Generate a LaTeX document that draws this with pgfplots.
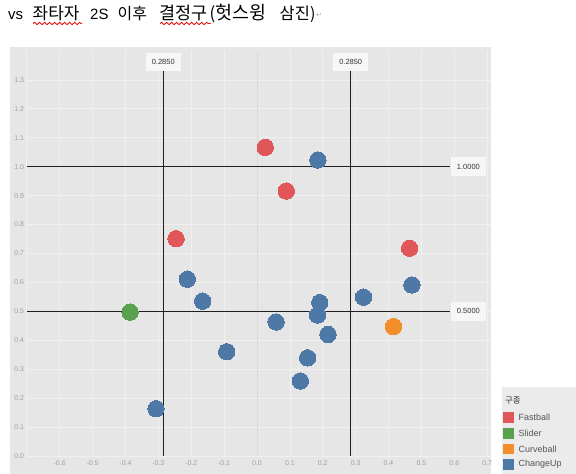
\documentclass[border=0pt]{standalone}
\usepackage{fontspec}
\setmainfont{Liberation Sans}
\newfontfamily\kr{Noto Sans CJK KR}
\newfontfamily\dejavu{DejaVu Sans}
\usepackage{pgfplots}
\pgfplotsset{compat=1.18}
\usetikzlibrary{decorations.pathmorphing}
\definecolor{bgc}{HTML}{E6E6E6}
\definecolor{gridc}{HTML}{F0F0F0}
\definecolor{zeroc}{HTML}{DADADA}
\definecolor{tickc}{HTML}{A0A0A0}
\definecolor{cRed}{HTML}{E15759}
\definecolor{cGreen}{HTML}{59A14F}
\definecolor{cOrange}{HTML}{F28E2B}
\definecolor{cBlue}{HTML}{4E79A7}
\definecolor{lblbg}{HTML}{F7F7F7}
\definecolor{legbg}{HTML}{EBEBEB}
\definecolor{reftxt}{HTML}{333333}
\definecolor{legtxt}{HTML}{555555}
\begin{document}
\begin{tikzpicture}
\path[use as bounding box] (0,0) rectangle (576bp,474bp);
\clip (0,0) rectangle (576bp,474bp);
\fill[bgc] (10bp,0) rectangle (491bp,427.3bp);
\begin{axis}[
  at={(26.8bp,18.1bp)}, anchor=south west,
  scale only axis, width=464.3bp, height=404.9bp,
  xmin=-0.7, xmax=0.712, ymin=0, ymax=1.4,
  axis line style={draw=none},
  tick style={draw=none},
  grid=major, major grid style={gridc, line width=0.7bp},
  xtick={-0.7,-0.6,-0.5,-0.4,-0.3,-0.2,-0.1,0,0.1,0.2,0.3,0.4,0.5,0.6,0.7},
  xticklabels={,-0.6,-0.5,-0.4,-0.3,-0.2,-0.1,0.0,0.1,0.2,0.3,0.4,0.5,0.6,0.7},
  ytick={0,0.1,0.2,0.3,0.4,0.5,0.6,0.7,0.8,0.9,1.0,1.1,1.2,1.3},
  yticklabels={0.0,0.1,0.2,0.3,0.4,0.5,0.6,0.7,0.8,0.9,1.0,1.1,1.2,1.3},
  ticklabel style={font=\fontsize{7}{8}\selectfont, text=tickc, inner sep=0pt},
  xticklabel style={yshift=-4.5bp},
  yticklabel style={xshift=-2.5bp},
  clip=false,
]
\addplot[forget plot, zeroc, line width=0.7bp] coordinates {(0,0) (0,1.4)};
% reference lines
\addplot[forget plot, black!88, line width=1.3bp] coordinates {(-0.285,0) (-0.285,1.331)};
\addplot[forget plot, black!88, line width=1.3bp] coordinates {(0.285,0) (0.285,1.331)};
\addplot[forget plot, black!88, line width=1.3bp] coordinates {(-0.7,1.0) (0.587,1.0)};
\addplot[forget plot, black!88, line width=1.3bp] coordinates {(-0.7,0.5) (0.587,0.5)};
\node[fill=lblbg, minimum width=35bp, minimum height=18bp, inner sep=0pt, font=\fontsize{7.5}{8}\selectfont, text=reftxt] at (axis cs:-0.285,1.363) {0.2850};
\node[fill=lblbg, minimum width=35bp, minimum height=18bp, inner sep=0pt, font=\fontsize{7.5}{8}\selectfont, text=reftxt] at (axis cs:0.285,1.363) {0.2850};
\node[fill=lblbg, minimum width=35bp, minimum height=19bp, inner sep=0pt, font=\fontsize{7.5}{8}\selectfont, text=reftxt] at (axis cs:0.643,1.0) {1.0000};
\node[fill=lblbg, minimum width=35bp, minimum height=19bp, inner sep=0pt, font=\fontsize{7.5}{8}\selectfont, text=reftxt] at (axis cs:0.643,0.5) {0.5000};
% data
\addplot[only marks, color=cRed, mark=*, mark size=8.2bp, mark options={draw=cRed, fill=cRed, line width=0pt}] coordinates {
(0.025,1.067) (0.089,0.916) (-0.246,0.751) (0.464,0.718)};
\addplot[only marks, color=cGreen, mark=*, mark size=8.2bp, mark options={draw=cGreen, fill=cGreen, line width=0pt}] coordinates {
(-0.386,0.497)};
\addplot[only marks, color=cOrange, mark=*, mark size=8.2bp, mark options={draw=cOrange, fill=cOrange, line width=0pt}] coordinates {
(0.415,0.447)};
\addplot[only marks, color=cBlue, mark=*, mark size=8.2bp, mark options={draw=cBlue, fill=cBlue, line width=0pt}] coordinates {
(0.185,1.023) (-0.212,0.611) (-0.165,0.535) (-0.092,0.360) (-0.307,0.163)
(0.058,0.463) (0.191,0.530) (0.184,0.487) (0.216,0.420) (0.154,0.339)
(0.132,0.259) (0.324,0.549) (0.471,0.591)};
\end{axis}
% legend
\fill[legbg] (502bp,0) rectangle (576bp,87bp);
\node[anchor=west, inner sep=0pt, font=\kr\fontsize{8.5}{9}\selectfont, text=reftxt] at (505bp,73bp) {구종};
\fill[cRed] (503.3bp,51bp) rectangle (514bp,61.6bp);
\fill[cGreen] (503.3bp,35.4bp) rectangle (514bp,46bp);
\fill[cOrange] (503.3bp,19.7bp) rectangle (514bp,30.3bp);
\fill[cBlue] (503.3bp,4.4bp) rectangle (514bp,15bp);
\node[anchor=west, inner sep=0pt, font=\fontsize{9}{10}\selectfont, text=legtxt] at (518.5bp,56.3bp) {Fastball};
\node[anchor=west, inner sep=0pt, font=\fontsize{9}{10}\selectfont, text=legtxt] at (518.5bp,40.7bp) {Slider};
\node[anchor=west, inner sep=0pt, font=\fontsize{9}{10}\selectfont, text=legtxt] at (518.5bp,25bp) {Curveball};
\node[anchor=west, inner sep=0pt, font=\fontsize{9}{10}\selectfont, text=legtxt] at (518.5bp,9.7bp) {ChangeUp};
% title
\begin{scope}[every node/.style={anchor=base west, inner sep=0pt}]
\node[font=\fontsize{15}{17}\selectfont] at (8bp,454bp) {vs};
\node[font=\kr\fontsize{17}{20}\selectfont] at (32.5bp,454bp) {좌타자};
\node[font=\fontsize{15}{17}\selectfont] at (90bp,454bp) {2S};
\node[font=\kr\fontsize{16}{20}\selectfont] at (117.5bp,454bp) {이후};
\node[font=\kr\fontsize{17.5}{20}\selectfont] at (159bp,454bp) {결정구};
\node[font=\kr\fontsize{17}{20}\selectfont] at (209.5bp,454bp) {(};
\node[font=\kr\fontsize{18.5}{20}\selectfont] at (215.5bp,454bp) {헛스윙};
\node[font=\kr\fontsize{16.5}{20}\selectfont] at (279.5bp,454bp) {삼진};
\node[font=\kr\fontsize{16}{20}\selectfont] at (310bp,454bp) {)};
\end{scope}
\node[anchor=base west, inner sep=0pt, font=\dejavu\fontsize{7}{8}\selectfont, text=gray!70] at (316bp,456bp) {↵};
\draw[red!90!black, line width=0.8bp, decorate, decoration={snake, amplitude=1.2bp, segment length=5bp}] (33bp,450.5bp) -- (82bp,450.5bp);
\draw[red!90!black, line width=0.8bp, decorate, decoration={snake, amplitude=1.2bp, segment length=5bp}] (160bp,450.5bp) -- (210.5bp,450.5bp);
\end{tikzpicture}
\end{document}
